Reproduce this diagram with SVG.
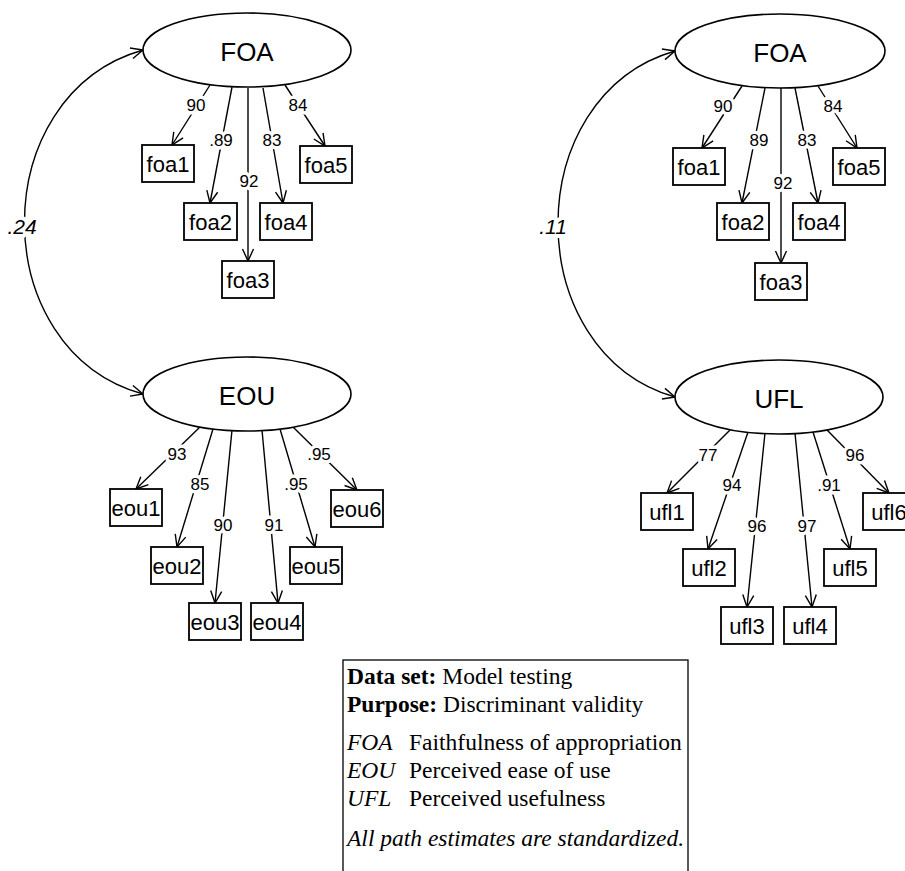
<svg xmlns="http://www.w3.org/2000/svg" width="905" height="871" viewBox="0 0 905 871">
  <defs>
    <marker id="ah" markerUnits="userSpaceOnUse" markerWidth="14" markerHeight="14" viewBox="0 0 14 14" refX="13" refY="7" orient="auto-start-reverse">
      <path d="M1,1.5 L13,7 L1,12.5" fill="none" stroke="#000" stroke-width="1.4"/>
    </marker>
    <style>
      .ln { stroke: #000; stroke-width: 1.4; fill: none; marker-end: url(#ah); }
      .arc { stroke: #000; stroke-width: 1.4; fill: none; marker-start: url(#ah); marker-end: url(#ah); }
      .lat { fill: #fff; stroke: #000; stroke-width: 1.6; }
      .box { fill: #fff; stroke: #000; stroke-width: 1.8; }
      text { font-family: "Liberation Sans", Arial, sans-serif; text-anchor: middle; fill: #000; }
      .lt { font-size: 26px; }
      .bt { font-size: 22px; }
      .pl { font-size: 17px; paint-order: stroke; stroke: #fff; stroke-width: 7; stroke-linejoin: round; }
      .cov { font-size: 21px; font-style: italic; paint-order: stroke; stroke: #fff; stroke-width: 8; stroke-linejoin: round; }
      .lg { font-family: "Liberation Serif", "Times New Roman", serif; font-size: 23.5px; text-anchor: start; }
      .b { font-weight: bold; }
      .i { font-style: italic; }
    </style>
  </defs>
  <rect width="905" height="871" fill="#fff"/>

  <!-- paths and correlations -->
  <g id="connectors">
    <!-- left model: FOA with EOU -->
    <path class="arc" d="M143,394 C-15,350 -15,95 143,50"/>
    <line class="ln" x1="210" y1="85" x2="172" y2="145"/>
    <line class="ln" x1="232" y1="87" x2="210" y2="203"/>
    <line class="ln" x1="248" y1="88" x2="248" y2="261"/>
    <line class="ln" x1="263" y1="88" x2="283" y2="203"/>
    <line class="ln" x1="285" y1="85" x2="325" y2="146"/>
    <line class="ln" x1="200" y1="427" x2="136" y2="489"/>
    <line class="ln" x1="213" y1="429" x2="177" y2="547"/>
    <line class="ln" x1="232" y1="430" x2="215" y2="603"/>
    <line class="ln" x1="262" y1="430" x2="278" y2="603"/>
    <line class="ln" x1="280" y1="429" x2="315" y2="547"/>
    <line class="ln" x1="293" y1="427" x2="357" y2="490"/>
    <!-- right model: FOA with UFL -->
    <path class="arc" d="M675,397 C519,352 519,96 675,51"/>
    <line class="ln" x1="742" y1="86" x2="702" y2="148"/>
    <line class="ln" x1="765" y1="88" x2="742" y2="203"/>
    <line class="ln" x1="781" y1="88" x2="781" y2="263"/>
    <line class="ln" x1="795" y1="88" x2="818" y2="203"/>
    <line class="ln" x1="818" y1="86" x2="857" y2="148"/>
    <line class="ln" x1="730" y1="430" x2="667" y2="493"/>
    <line class="ln" x1="748" y1="432" x2="708" y2="549"/>
    <line class="ln" x1="765" y1="433" x2="747" y2="607"/>
    <line class="ln" x1="795" y1="433" x2="812" y2="607"/>
    <line class="ln" x1="813" y1="432" x2="850" y2="549"/>
    <line class="ln" x1="827" y1="430" x2="889" y2="493"/>

    <!-- estimates -->
    <text class="cov" x="22" y="234">.24</text>
    <text class="pl" x="196" y="111">90</text>
    <text class="pl" x="221" y="146">.89</text>
    <text class="pl" x="249" y="187">92</text>
    <text class="pl" x="272" y="146">83</text>
    <text class="pl" x="298" y="111">84</text>
    <text class="pl" x="177" y="460">93</text>
    <text class="pl" x="200" y="490">85</text>
    <text class="pl" x="223" y="531">90</text>
    <text class="pl" x="274" y="531">91</text>
    <text class="pl" x="296" y="490">.95</text>
    <text class="pl" x="319" y="460">.95</text>

    <text class="cov" x="553" y="234">.11</text>
    <text class="pl" x="723" y="112">90</text>
    <text class="pl" x="759" y="146">89</text>
    <text class="pl" x="783" y="189">92</text>
    <text class="pl" x="807" y="146">83</text>
    <text class="pl" x="833" y="112">84</text>
    <text class="pl" x="708" y="461">77</text>
    <text class="pl" x="732" y="491">94</text>
    <text class="pl" x="757" y="532">96</text>
    <text class="pl" x="807" y="532">97</text>
    <text class="pl" x="829" y="491">.91</text>
    <text class="pl" x="855" y="461">96</text>
  </g>

  <!-- latent constructs -->
  <g id="foa-left"><ellipse class="lat" cx="247" cy="50" rx="104" ry="37"/><text class="lt" x="247" y="61">FOA</text></g>
  <g id="eou"><ellipse class="lat" cx="247" cy="394" rx="104" ry="37"/><text class="lt" x="247" y="405">EOU</text></g>
  <g id="foa-right"><ellipse class="lat" cx="780" cy="51" rx="105" ry="37"/><text class="lt" x="780" y="62">FOA</text></g>
  <g id="ufl"><ellipse class="lat" cx="779" cy="397" rx="104" ry="37"/><text class="lt" x="779" y="408">UFL</text></g>

  <!-- indicators, left model -->
  <g id="foa1-left"><rect class="box" x="142" y="145" width="52" height="37"/><text class="bt" x="168" y="172">foa1</text></g>
  <g id="foa2-left"><rect class="box" x="184" y="203" width="53" height="37"/><text class="bt" x="210.5" y="230">foa2</text></g>
  <g id="foa3-left"><rect class="box" x="222" y="261" width="52" height="37"/><text class="bt" x="248" y="288">foa3</text></g>
  <g id="foa4-left"><rect class="box" x="260" y="203" width="52" height="37"/><text class="bt" x="286" y="230">foa4</text></g>
  <g id="foa5-left"><rect class="box" x="300" y="146" width="52" height="37"/><text class="bt" x="326" y="173">foa5</text></g>
  <g id="eou1"><rect class="box" x="110" y="489" width="52" height="37"/><text class="bt" x="136" y="516">eou1</text></g>
  <g id="eou2"><rect class="box" x="151" y="547" width="52" height="37"/><text class="bt" x="177" y="574">eou2</text></g>
  <g id="eou3"><rect class="box" x="189" y="603" width="52" height="37"/><text class="bt" x="215" y="630">eou3</text></g>
  <g id="eou4"><rect class="box" x="251" y="603" width="52" height="37"/><text class="bt" x="277" y="630">eou4</text></g>
  <g id="eou5"><rect class="box" x="290" y="547" width="52" height="37"/><text class="bt" x="316" y="574">eou5</text></g>
  <g id="eou6"><rect class="box" x="331" y="490" width="52" height="37"/><text class="bt" x="357" y="517">eou6</text></g>

  <!-- indicators, right model -->
  <g id="foa1-right"><rect class="box" x="673" y="148" width="52" height="37"/><text class="bt" x="699" y="175">foa1</text></g>
  <g id="foa2-right"><rect class="box" x="717" y="203" width="52" height="37"/><text class="bt" x="743" y="230">foa2</text></g>
  <g id="foa3-right"><rect class="box" x="755" y="263" width="52" height="37"/><text class="bt" x="781" y="290">foa3</text></g>
  <g id="foa4-right"><rect class="box" x="793" y="203" width="52" height="37"/><text class="bt" x="819" y="230">foa4</text></g>
  <g id="foa5-right"><rect class="box" x="833" y="148" width="52" height="37"/><text class="bt" x="859" y="175">foa5</text></g>
  <g id="ufl1"><rect class="box" x="641" y="493" width="52" height="37"/><text class="bt" x="667" y="520">ufl1</text></g>
  <g id="ufl2"><rect class="box" x="683" y="549" width="52" height="37"/><text class="bt" x="709" y="576">ufl2</text></g>
  <g id="ufl3"><rect class="box" x="721" y="607" width="52" height="37"/><text class="bt" x="747" y="634">ufl3</text></g>
  <g id="ufl4"><rect class="box" x="784" y="607" width="52" height="37"/><text class="bt" x="810" y="634">ufl4</text></g>
  <g id="ufl5"><rect class="box" x="824" y="549" width="52" height="37"/><text class="bt" x="850" y="576">ufl5</text></g>
  <g id="ufl6"><rect class="box" x="863" y="493" width="52" height="37"/><text class="bt" x="889" y="520">ufl6</text></g>

  <!-- key -->
  <g id="legend">
    <rect x="343" y="660" width="345" height="220" fill="#fff" stroke="#000" stroke-width="1.3"/>
    <text class="lg" x="347" y="684"><tspan class="b">Data set:</tspan> Model testing</text>
    <text class="lg" x="347" y="712"><tspan class="b">Purpose:</tspan> Discriminant validity</text>
    <text class="lg i" x="347" y="750">FOA</text>
    <text class="lg" x="409" y="750">Faithfulness of appropriation</text>
    <text class="lg i" x="347" y="778">EOU</text>
    <text class="lg" x="409" y="778">Perceived ease of use</text>
    <text class="lg i" x="347" y="806">UFL</text>
    <text class="lg" x="409" y="806">Perceived usefulness</text>
    <text class="lg i" x="347" y="846">All path estimates are standardized.</text>
  </g>
</svg>
